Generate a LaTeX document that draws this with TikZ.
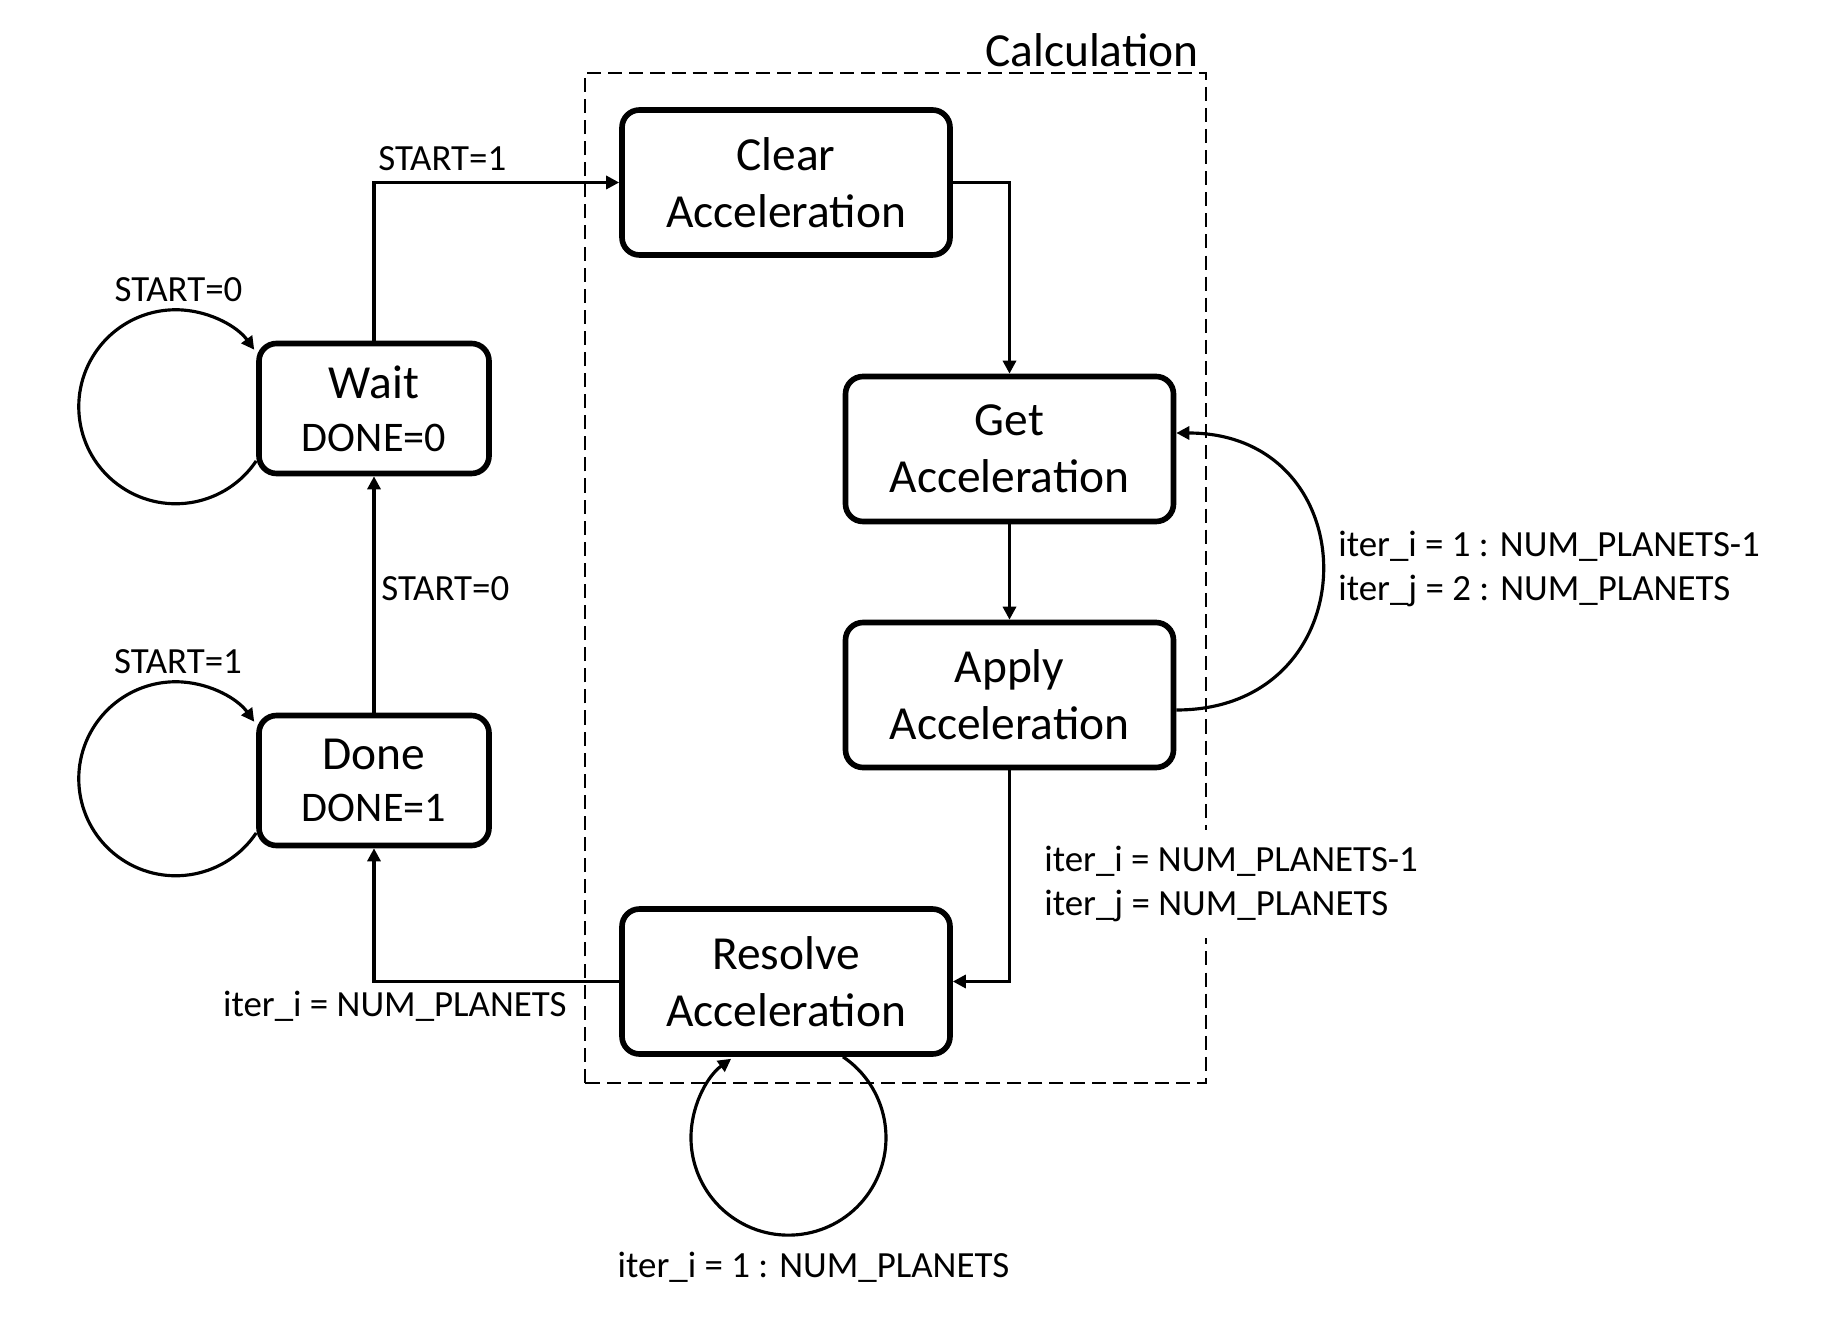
\documentclass[tikz,border=0pt]{standalone}
\usepackage{fontspec}
\setmainfont{Carlito}
\usepackage{tikz}
\usetikzlibrary{arrows.meta, positioning}

\begin{document}
\begin{tikzpicture}[
        state/.style={draw, line width=3.2pt, rounded corners=0.35cm, align=center,
            font=\fontsize{27}{32.5}\selectfont, minimum width=6.56cm, minimum height=2.9cm, inner sep=0pt},
        smallstate/.style={state, font=\fontsize{27}{30}\selectfont, minimum width=4.6cm, minimum height=2.6cm},
        trans/.style={line width=1.8pt, -{Triangle[length=0.26cm,width=0.26cm]}},
        cond/.style={font=\fontsize{21}{25}\selectfont, inner sep=0pt, align=left}
    ]
    \useasboundingbox (0,0) rectangle (36.72,26.34);
    % Calculation block
    \draw[line width=1.3pt, dash pattern=on 8pt off 4pt] (11.7,4.68) rectangle (24.12,24.88);
    \node[anchor=east, inner sep=0pt, font=\fontsize{27}{32}\selectfont] (calc) at (23.98,25.34) {Calculation};
    % States
    \node[state] (clear) at (15.72,22.69) {Clear\\Acceleration};
    \node[smallstate] (wait) at (7.48,18.17) {Wait\\{\fontsize{24}{30}\selectfont DONE=0}};
    \node[smallstate] (done) at (7.48,10.73) {Done\\{\fontsize{24}{30}\selectfont DONE=1}};
    \node[state] (get) at (20.19,17.36) {Get\\Acceleration};
    \node[state] (apply) at (20.19,12.44) {Apply\\Acceleration};
    \node[state] (resolve) at (15.72,6.71) {Resolve\\Acceleration};
    % Transitions
    \draw[trans] (wait.north) |- (clear.west);
    \draw[trans] (clear.east) -| (get.north);
    \draw[trans] (get.south) -- (apply.north);
    \draw[trans] ([yshift=-0.3cm]apply.east) to[out=0, in=0, looseness=1.8] ([yshift=0.32cm]get.east);
    \draw[trans] (apply.south) |- (resolve.east);
    \draw[trans] (resolve.west) -| (done.south);
    \draw[trans] (done.north) -- (wait.south);
    % Self loops
    \draw[trans] ([yshift=-1.05cm]wait.west) arc[start angle=-34, end angle=-324, radius=1.94cm];
    \draw[trans] ([yshift=-1.05cm]done.west) arc[start angle=-34, end angle=-324, radius=1.94cm];
    \draw[trans] ([xshift=1.14cm]resolve.south) arc[start angle=56, end angle=-234, radius=1.95cm];
    % Conditions
    \node[cond, anchor=west] (startone) at (7.56,23.16) {START=1};
    \node[cond] (waitloop) at (3.57,20.54) {START=0};
    \node[cond] (doneloop) at (3.56,13.10) {START=1};
    \node[cond, anchor=west] (startzero) at (7.62,14.56) {START=0};
    \node[cond, anchor=west] (getloop) at (26.76,14.96) {iter\_i = 1 : NUM\_PLANETS-1\\iter\_j = 2 : NUM\_PLANETS};
    \node[cond, anchor=west, fill=white, inner xsep=4pt, inner ysep=9pt] (applyout) at (20.74,8.66) {iter\_i = NUM\_PLANETS-1\\iter\_j = NUM\_PLANETS};
    \node[cond, anchor=east] (resolveout) at (11.34,6.22) {iter\_i = NUM\_PLANETS};
    \node[cond] (resolveloop) at (16.27,1.0) {iter\_i = 1 : NUM\_PLANETS};
\end{tikzpicture}
\end{document}
